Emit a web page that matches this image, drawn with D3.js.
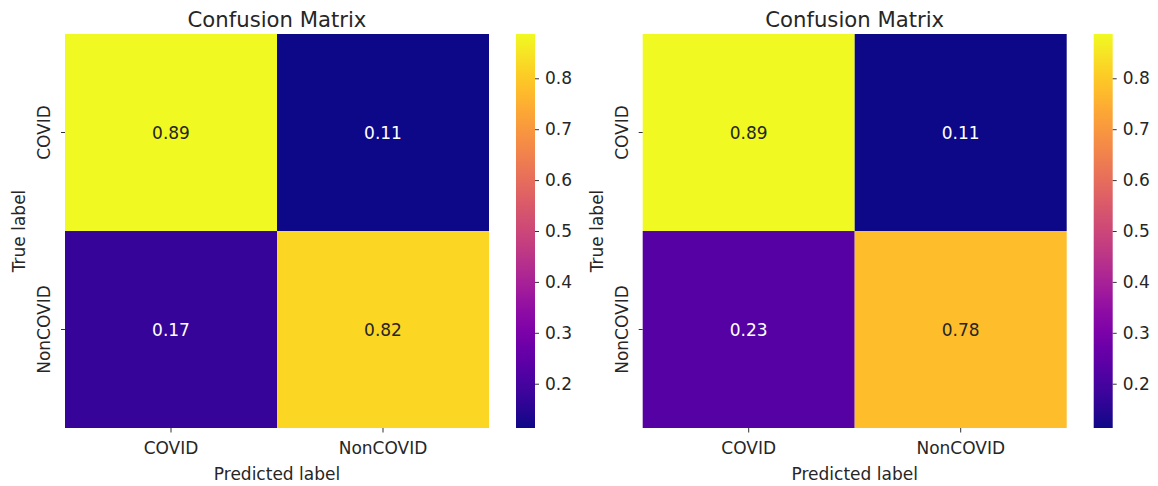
<!DOCTYPE html>
<html>
<head>
<meta charset="utf-8">
<script src="https://cdn.jsdelivr.net/npm/d3@7"></script>
<style>
  body { margin: 0; background: #fff; }
  svg text { font-family: 'DejaVu Sans', sans-serif; fill: #262626; }
</style>
</head>
<body>
<div id="chart"></div>
<script>
// class labels (rows = true, columns = predicted)
const classes = ['COVID', 'NonCOVID']
// normalised confusion matrices
const leftMatrix = [
  [0.887, 0.113],
  [0.171, 0.824],
]
const rightMatrix = [
  [0.887, 0.113],
  [0.228, 0.776],
]
const cbarTicks = [0.2, 0.3, 0.4, 0.5, 0.6, 0.7, 0.8]
const titles = ['Confusion Matrix', 'Confusion Matrix']

const W = 1158,
  H = 486
const mapTop = 34,
  mapW = 424,
  mapH = 394,
  cbarGap = 27,
  cbarW = 19
const fs = '17px'

const svg = d3
  .select('#chart')
  .append('svg')
  .attr('width', W)
  .attr('height', H)

function drawMatrix(matrix, x0, title, idx) {
  const cells = []
  matrix.forEach((row, i) =>
    row.forEach((v, j) => cells.push({ t: classes[i], p: classes[j], v }))
  )
  const vals = cells.map((d) => d.v)
  const color = d3
    .scaleSequential(d3.interpolatePlasma)
    .domain([d3.min(vals), d3.max(vals)])

  const x = d3.scaleBand().domain(classes).range([x0, x0 + mapW])
  const y = d3.scaleBand().domain(classes).range([mapTop, mapTop + mapH])

  const g = svg.append('g')

  g.selectAll('rect.cell')
    .data(cells)
    .enter()
    .append('rect')
    .attr('class', 'cell')
    .attr('x', (d) => x(d.p))
    .attr('y', (d) => y(d.t))
    .attr('width', x.bandwidth())
    .attr('height', y.bandwidth())
    .attr('fill', (d) => color(d.v))

  // annotation colour like seaborn: dark text on light cells
  function lum(c) {
    const rgb = d3.rgb(c)
    const f = (u) => {
      u = u / 255
      return u <= 0.03928 ? u / 12.92 : Math.pow((u + 0.055) / 1.055, 2.4)
    }
    return 0.2126 * f(rgb.r) + 0.7152 * f(rgb.g) + 0.0722 * f(rgb.b)
  }

  g.selectAll('text.annot')
    .data(cells)
    .enter()
    .append('text')
    .attr('class', 'annot')
    .attr('x', (d) => x(d.p) + x.bandwidth() / 2)
    .attr('y', (d) => y(d.t) + y.bandwidth() / 2)
    .attr('dy', '0.36em')
    .attr('text-anchor', 'middle')
    .style('font-size', fs)
    .style('fill', (d) => (lum(color(d.v)) > 0.408 ? '#262626' : '#ffffff'))
    .text((d) => d3.format('.2f')(d.v))

  // x axis
  const xAxis = g
    .append('g')
    .attr('transform', `translate(0,${mapTop + mapH})`)
    .call(d3.axisBottom(x).tickSize(4.5).tickPadding(9))
  xAxis.select('.domain').remove()
  xAxis.selectAll('line').attr('stroke', '#333')
  xAxis
    .selectAll('text')
    .style('font-size', fs)
    .attr('fill', null)

  // y axis, labels rotated
  const yAxis = g
    .append('g')
    .attr('transform', `translate(${x0},0)`)
    .call(d3.axisLeft(y).tickSize(4).tickPadding(0))
  yAxis.select('.domain').remove()
  yAxis.selectAll('line').attr('stroke', '#333')
  yAxis
    .selectAll('text')
    .attr('x', null)
    .attr('dy', null)
    .attr('fill', null)
    .attr('text-anchor', 'middle')
    .attr('transform', 'translate(-15,0) rotate(-90)')
    .style('font-size', fs)

  g.append('text')
    .attr('x', x0 + mapW / 2)
    .attr('y', 27)
    .attr('text-anchor', 'middle')
    .style('font-size', '21.2px')
    .text(title)

  g.append('text')
    .attr('x', x0 + mapW / 2)
    .attr('y', 480)
    .attr('text-anchor', 'middle')
    .style('font-size', fs)
    .text('Predicted label')

  g.append('text')
    .attr('transform', `translate(${x0 - 40},${mapTop + mapH / 2}) rotate(-90)`)
    .attr('text-anchor', 'middle')
    .style('font-size', fs)
    .text('True label')

  // colour bar
  const cx = x0 + mapW + cbarGap
  const gradId = 'plasma' + idx
  const grad = svg
    .append('defs')
    .append('linearGradient')
    .attr('id', gradId)
    .attr('x1', 0)
    .attr('x2', 0)
    .attr('y1', 1)
    .attr('y2', 0)
  d3.range(0, 1.0001, 0.05).forEach((t) => {
    grad
      .append('stop')
      .attr('offset', t)
      .attr('stop-color', d3.interpolatePlasma(t))
  })
  g.append('rect')
    .attr('x', cx)
    .attr('y', mapTop)
    .attr('width', cbarW)
    .attr('height', mapH)
    .attr('fill', `url(#${gradId})`)

  const cy = d3
    .scaleLinear()
    .domain(color.domain())
    .range([mapTop + mapH, mapTop])
  const cAxis = g
    .append('g')
    .attr('transform', `translate(${cx + cbarW},0)`)
    .call(
      d3.axisRight(cy).tickValues(cbarTicks).tickFormat(d3.format('.1f')).tickSize(4).tickPadding(6)
    )
  cAxis.select('.domain').remove()
  cAxis.selectAll('line').attr('stroke', '#333')
  cAxis
    .selectAll('text')
    .style('font-size', fs)
    .attr('fill', null)
}

drawMatrix(leftMatrix, 65, titles[0], 0)
drawMatrix(rightMatrix, 642.7, titles[1], 1)
</script>
</body>
</html>
